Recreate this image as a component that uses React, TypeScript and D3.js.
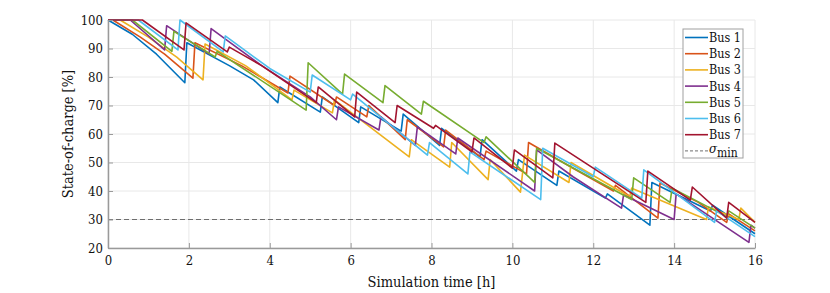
import React, { useRef, useEffect } from 'react';
import * as d3 from 'd3';

// state-of-charge traces, [time h, soc %]
const bus1 = [[0,100],[0.6,95],[1.2,88],[1.9,78],[1.95,92],[3.0,84],[3.6,79],[4.2,71],[4.25,76.5],[5.25,67.7],[5.3,73],[6.2,64],[6.25,69.5],[7.25,61],[7.3,67],[8.2,56],[8.25,62],[9.2,52],[9.25,58],[10.1,47],[10.15,51],[11.1,42],[11.15,47],[12.3,37.5],[12.35,39],[13.4,28],[13.45,43],[14.9,33],[14.95,35],[16,25]];
const bus2 = [[0,100],[0.12,100],[0.8,94],[1.4,88],[2.1,79.6],[2.15,92],[3.3,84],[4.45,74.4],[4.5,80.3],[5.6,70],[5.65,73],[6.4,66],[6.45,70],[7.35,58],[7.4,65],[8.3,55.5],[8.35,61.4],[9.3,51],[9.35,54],[10.35,46],[10.4,57],[11.5,48],[12.5,40],[12.55,42],[13.6,30.5],[13.65,42.8],[14.6,36],[15.3,29],[15.35,32],[16,26]];
const bus3 = [[0,100],[0.3,100],[1.0,94],[1.7,87],[2.35,79],[2.4,91.6],[3.4,84],[4.55,72],[4.6,75.4],[5.55,67.4],[5.6,72],[7.45,52],[7.5,58],[8.45,48.4],[8.5,57],[9.4,44],[9.45,51],[10.2,39.6],[10.3,52.6],[11.4,43],[11.45,50],[12.9,38],[12.95,41],[14.8,30],[14.85,34.4],[15.6,30],[15.65,34],[16,29]];
const bus4 = [[0,100],[0.55,100],[1.4,89.5],[1.45,98],[2.5,88],[2.55,97],[3.8,84],[5.0,73],[5.65,65],[5.7,69.5],[6.7,61.4],[6.75,66],[7.6,56],[7.65,62.5],[8.6,53],[8.65,58.6],[10.55,40],[10.6,54.4],[11.5,45],[12.7,34],[12.75,38.6],[14.0,30],[14.05,39],[15.85,22],[15.9,28],[16,27]];
const bus5 = [[0,100],[0.6,100],[1.58,89],[1.63,96],[2.65,87],[2.7,89],[4.9,68.4],[4.95,85],[5.8,74],[5.85,81],[6.8,71],[6.85,77],[7.75,67],[7.8,71.5],[9.3,57],[9.35,59],[10.55,43],[10.6,55],[12.95,37],[13.0,44.6],[13.9,36],[13.95,41],[15.3,31],[15.35,33],[16,27]];
const bus6 = [[0,100],[0.75,100],[1.73,89.5],[1.78,100],[2.85,88.8],[2.9,94.4],[4.0,83],[5.0,74.7],[5.05,80.7],[6.0,72],[6.05,74],[7.9,52.6],[7.95,57],[8.9,46],[8.95,53.7],[10.7,37],[10.75,55],[12.0,45],[12.05,48.4],[13.2,37.5],[13.25,47.4],[15.0,29],[15.05,33],[16,24]];
const bus7 = [[0,100],[0.85,100],[1.88,89.5],[1.93,99],[2.95,88.8],[3.0,90.5],[3.8,84],[5.15,71],[5.2,76.5],[6.1,66],[6.15,74.7],[7.1,64],[7.15,70],[8.05,62],[8.1,63],[9.0,53.7],[9.05,58.6],[10.0,48],[10.05,54.4],[11.0,44.6],[11.05,56.8],[13.3,36],[13.35,47],[14.4,36.8],[14.45,41.4],[15.3,30.5],[15.35,36],[16,29]];

const buses = [bus1, bus2, bus3, bus4, bus5, bus6, bus7];
const busNames = ['Bus 1', 'Bus 2', 'Bus 3', 'Bus 4', 'Bus 5', 'Bus 6', 'Bus 7'];
const colors = ['#0072BD', '#D95319', '#EDB120', '#7E2F8E', '#77AC30', '#4DBEEE', '#A2142F'];
const xTicks = [0, 2, 4, 6, 8, 10, 12, 14, 16];
const yTicks = [20, 30, 40, 50, 60, 70, 80, 90, 100];
const sigmaMin = 30;

const WIDTH = 830;
const HEIGHT = 293;
const LEFT = 108;
const RIGHT = 755;
const TOP = 20;
const BOTTOM = 248;
const FONT = 'DejaVu Serif Condensed, DejaVu Serif';
const AXIS_COLOR = '#9a9a9a';

function SocChart() {
  const ref = useRef(null);

  useEffect(() => {
    document.body.style.margin = '0';
    const svg = d3.select(ref.current);
    svg.selectAll('*').remove();

    const x = d3.scaleLinear().domain([0, 16]).range([LEFT, RIGHT]);
    const y = d3.scaleLinear().domain([20, 100]).range([BOTTOM, TOP]);

    // grid
    const grid = svg.append('g');
    grid.selectAll('.gx').data(xTicks).join('line')
      .attr('x1', d => x(d)).attr('x2', d => x(d))
      .attr('y1', TOP).attr('y2', BOTTOM)
      .attr('stroke', '#e8e8e8').attr('stroke-width', 1);
    grid.selectAll('.gy').data(yTicks).join('line')
      .attr('x1', LEFT).attr('x2', RIGHT)
      .attr('y1', d => y(d)).attr('y2', d => y(d))
      .attr('stroke', '#e8e8e8').attr('stroke-width', 1);

    // sigma min
    svg.append('line')
      .attr('x1', x(0)).attr('x2', x(16))
      .attr('y1', y(sigmaMin)).attr('y2', y(sigmaMin))
      .attr('stroke', '#6e6e6e').attr('stroke-width', 1)
      .attr('stroke-dasharray', '5,3');

    const line = d3.line().x(d => x(d[0])).y(d => y(d[1]));
    svg.append('g').selectAll('path').data(buses).join('path')
      .attr('d', d => line(d))
      .attr('fill', 'none')
      .attr('stroke', (_, i) => colors[i])
      .attr('stroke-width', 1.6)
      .attr('stroke-linejoin', 'round');

    // axes
    const xAxis = d3.axisBottom(x).tickValues(xTicks).tickSizeInner(-5).tickSizeOuter(0).tickPadding(8);
    const gx = svg.append('g').attr('transform', `translate(0, ${BOTTOM})`).call(xAxis);
    const yAxis = d3.axisLeft(y).tickValues(yTicks).tickSizeInner(-5).tickSizeOuter(0).tickPadding(5);
    const gy = svg.append('g').attr('transform', `translate(${LEFT}, 0)`).call(yAxis);
    [gx, gy].forEach(g => {
      g.attr('font-family', FONT).attr('font-size', 13);
      g.select('.domain').attr('stroke', AXIS_COLOR).attr('stroke-width', 1.5);
      g.selectAll('.tick line').attr('stroke', AXIS_COLOR);
      g.selectAll('.tick text').attr('fill', '#111');
    });

    svg.append('text')
      .attr('x', (LEFT + RIGHT) / 2).attr('y', 287)
      .attr('text-anchor', 'middle')
      .attr('font-family', FONT).attr('font-size', 14.5).attr('fill', '#111')
      .text('Simulation time [h]');
    svg.append('text')
      .attr('transform', `translate(73, ${(TOP + BOTTOM) / 2}) rotate(-90)`)
      .attr('text-anchor', 'middle')
      .attr('font-family', FONT).attr('font-size', 14.5).attr('fill', '#111')
      .text('State-of-charge [%]');

    // legend
    const lg = svg.append('g').attr('font-family', FONT);
    lg.append('rect')
      .attr('x', 683).attr('y', 29).attr('width', 60).attr('height', 129)
      .attr('fill', '#fff').attr('stroke', '#a0a0a0').attr('stroke-width', 1);
    const step = 16.2;
    busNames.forEach((name, i) => {
      const cy = 37.5 + i * step;
      lg.append('line').attr('x1', 685).attr('x2', 708).attr('y1', cy).attr('y2', cy)
        .attr('stroke', colors[i]).attr('stroke-width', 1.6);
      lg.append('text').attr('x', 709).attr('y', cy + 4.5)
        .attr('font-size', 12.5).attr('fill', '#111')
        .text(name);
    });
    const sy = 37.5 + 7 * step;
    lg.append('line').attr('x1', 685).attr('x2', 708).attr('y1', sy).attr('y2', sy)
      .attr('stroke', '#6e6e6e').attr('stroke-width', 1).attr('stroke-dasharray', '3,2');
    const st = lg.append('text').attr('x', 709).attr('y', sy + 2)
      .attr('font-size', 13).attr('fill', '#111');
    st.append('tspan').attr('font-style', 'italic').text('σ');
    st.append('tspan').attr('dy', 4).attr('font-size', 12).text('min');
  }, []);

  return <svg ref={ref} width={WIDTH} height={HEIGHT} style={{ display: 'block' }}></svg>;
}

export default function App() {
  return <SocChart />;
}
